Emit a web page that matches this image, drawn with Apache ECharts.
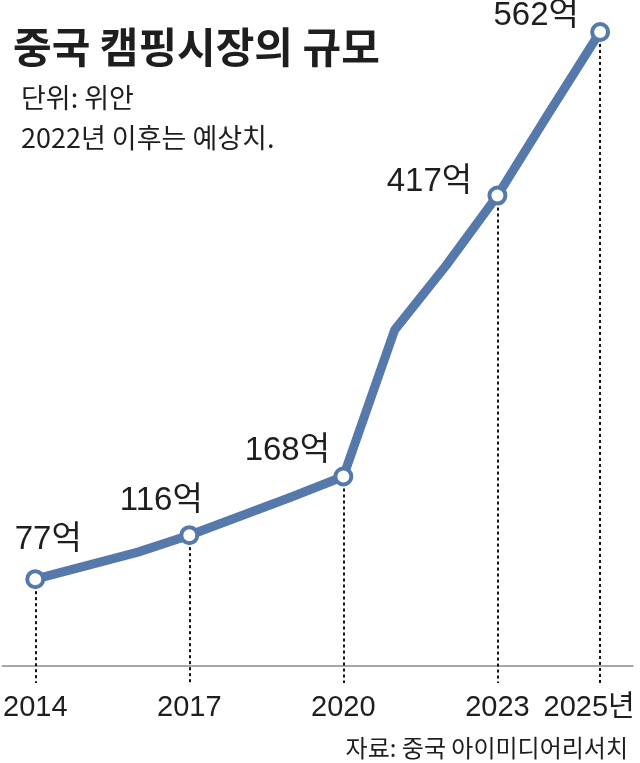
<!DOCTYPE html>
<html>
<head>
<meta charset="utf-8">
<script src="https://cdn.jsdelivr.net/npm/echarts@6/dist/echarts.min.js"></script>
<style>
html,body{margin:0;padding:0;background:#fff;}
#chart{width:640px;height:763px;}
</style>
</head>
<body>
<div id="chart"></div>
<script>
// ---- data ----
const years = [2014, 2015, 2016, 2017, 2018, 2019, 2020, 2021, 2022, 2023, 2024, 2025];
const values = [77, 89, 101, 116, 133, 150, 168, 298, 355, 417, 490, 562];
const labeledYears = [2014, 2017, 2020, 2023, 2025];
const tickYears = [2014, 2017, 2020, 2023, 2025];
const lastTickSuffix = '년';
const valueUnit = '억';
const titleText = '중국 캠핑시장의 규모';
const unitText = '단위: 위안';
const noteText = '2022년 이후는 예상치.';
const sourceText = '자료: 중국 아이미디어리서치';

// ---- style config (not data) ----
const LINE_COLOR = '#5579ab';
const TEXT_COLOR = '#1e1e1e';
const NUM_FONT = "'Liberation Sans', Arial, 'Noto Sans CJK KR', sans-serif";
const KR_FONT = "'Noto Sans CJK KR', 'Liberation Sans', sans-serif";
const labelOffsets = {
  2014: [13, -8],
  2017: [-28, -3],
  2020: [-56, 6],
  2023: [-68, 18],
  2025: [-64, 15]
};
const Y_MIN = -15, Y_MAX = 585;

const points = years.map((y, i) => {
  const labeled = labeledYears.indexOf(y) >= 0;
  return {
    value: [y, values[i]],
    symbol: labeled ? 'circle' : 'none',
    label: labeled ? { show: true, offset: labelOffsets[y] } : { show: false }
  };
});

const dropLines = labeledYears.map(y => {
  const v = values[years.indexOf(y)];
  return [{ coord: [y, v] }, { coord: [y, Y_MIN] }];
});

const chart = echarts.init(document.getElementById('chart'), null, { renderer: 'canvas' });
chart.setOption({
  animation: false,
  backgroundColor: '#fff',
  title: [
    { text: titleText, left: 8, top: 21,
      textStyle: { fontFamily: KR_FONT, fontWeight: 'bold', fontSize: 42, color: TEXT_COLOR } },
    { text: unitText, left: 16, top: 79,
      textStyle: { fontFamily: KR_FONT, fontWeight: 'normal', fontSize: 27, color: TEXT_COLOR } },
    { text: noteText, left: 16, top: 119,
      textStyle: { fontFamily: KR_FONT, fontWeight: 'normal', fontSize: 27, color: TEXT_COLOR } },
    { text: sourceText, right: 7, top: 731,
      textStyle: { fontFamily: KR_FONT, fontWeight: 'normal', fontSize: 24, color: TEXT_COLOR } }
  ],
  grid: { left: 0, right: 7, top: 6, bottom: 80 },
  xAxis: {
    type: 'value',
    min: 2013.36,
    max: 2025.64,
    splitLine: { show: false },
    axisLine: { show: true, lineStyle: { color: '#8a8a8a', width: 1.5 } },
    axisTick: { show: false },
    axisLabel: {
      customValues: tickYears,
      margin: 10,
      fontFamily: NUM_FONT,
      fontSize: 29,
      color: TEXT_COLOR,
      formatter: v => v === tickYears[tickYears.length - 1] ? '{last|' + v + lastTickSuffix + '}' : String(v),
      rich: { last: { fontFamily: NUM_FONT, fontSize: 29, color: TEXT_COLOR, padding: [0, 22, 0, 0] } }
    }
  },
  yAxis: {
    type: 'value', min: Y_MIN, max: Y_MAX, show: false, splitLine: { show: false }
  },
  series: [{
    type: 'line',
    data: points,
    symbolSize: 16,
    itemStyle: { color: '#fff', borderColor: LINE_COLOR, borderWidth: 4 },
    lineStyle: { color: LINE_COLOR, width: 9, cap: 'round', join: 'round' },
    label: {
      position: 'top',
      distance: 5,
      fontFamily: NUM_FONT,
      fontSize: 33,
      color: TEXT_COLOR,
      formatter: p => p.value[1] + valueUnit
    },
    markLine: {
      silent: true,
      symbol: 'none',
      label: { show: false },
      lineStyle: { color: '#111', width: 2, type: [3, 3] },
      data: dropLines,
      z: 1
    },
    z: 3
  }]
});
</script>
</body>
</html>
